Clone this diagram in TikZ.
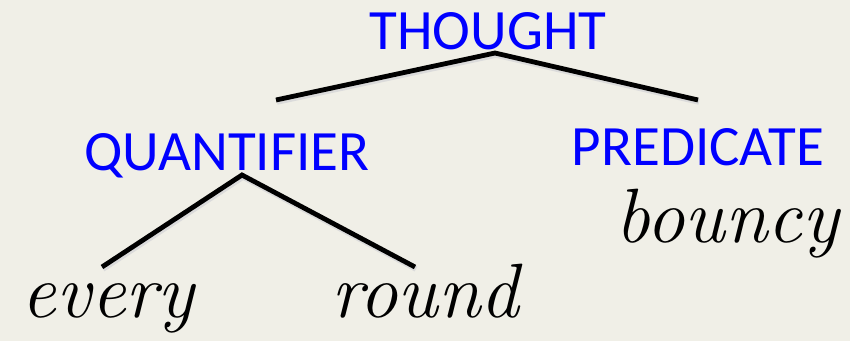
\documentclass[tikz,border=0pt]{standalone}
\usepackage{fontspec}
\newfontfamily\labelfont{Carlito}
\usetikzlibrary{calc}
\definecolor{paper}{RGB}{240,239,231}

\begin{document}
\begin{tikzpicture}[
  x=1pt,y=1pt,
  cat/.style={font=\labelfont\fontsize{57}{60}\selectfont, text=blue, inner sep=0pt, anchor=base},
  word/.style={font=\fontsize{77}{80}\selectfont\itshape, text=black, inner sep=0pt, anchor=base},
  branch/.style={line width=4.8pt, draw=black},
  branchshade/.style={line width=5.5pt, draw=black!14}
]

% Page and background
\fill[paper] (0,0) rectangle (850,341);
\useasboundingbox (0,0) rectangle (850,341);

% Category labels
\node[cat] (thought) at (488,292) {THOUGHT};
\node[cat] (quant) at (227,171) {QUANTIFIER};
\node[cat] (pred) at (698,176) {PREDICATE};

% Words
\node[word] (every) at (108,24) {every};
\node[word] (round) at (425,24) {round};
\node[word] (bouncy) at (727,99) {bouncy};

% Branch points
\coordinate (T0) at (495,288);
\coordinate (T1) at (276,241);
\coordinate (T2) at (698,241);
\coordinate (Q0) at (242,166);
\coordinate (Q1) at (102,74);
\coordinate (Q2) at (415,74);

% Soft shadows under the branches
\draw[branchshade] ($(T1)+(1,-2)$) -- ($(T0)+(1,-2)$) -- ($(T2)+(1,-2)$);
\draw[branchshade] ($(Q1)+(1,-2)$) -- ($(Q0)+(1,-2)$) -- ($(Q2)+(1,-2)$);

% Branches
\draw[branch] (T1) -- (T0) -- (T2);
\draw[branch] (Q1) -- (Q0) -- (Q2);

\end{tikzpicture}
\end{document}
